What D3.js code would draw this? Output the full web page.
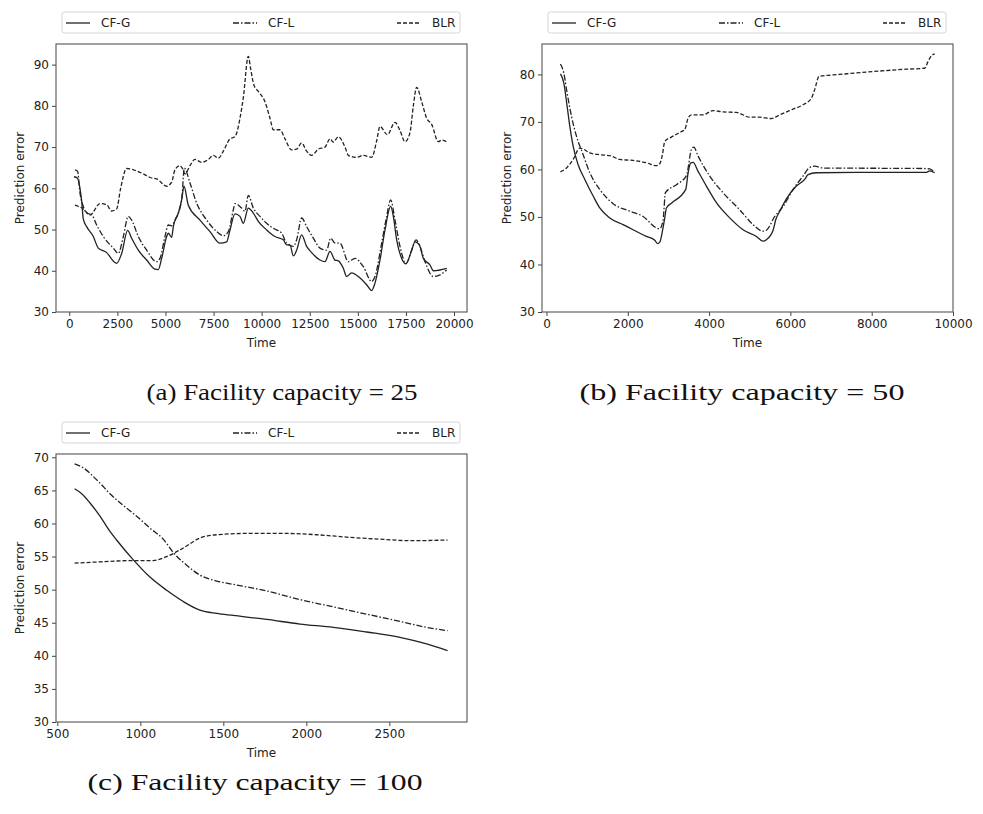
<!DOCTYPE html>
<html>
<head>
<meta charset="utf-8">
<script src="https://cdn.jsdelivr.net/npm/d3@7"></script>
<style>
  html, body { margin: 0; padding: 0; background: #fff; }
  svg { display: block; }
  .tick text { font-family: "DejaVu Sans", sans-serif; font-size: 12px; fill: #222; }
</style>
</head>
<body>
<svg id="chart" width="983" height="814"></svg>
<script>
// ---------------- DATA ----------------
const seriesNames = ["CF-G", "CF-L", "BLR"];

// Panel (a): capacity 25
const aG_t = [244,418,556,643,730,903,1249,1509,1943,2376,2462,2722,3034,3242,3589,4022,4455,4629,4802,5062,5149,5322,5409,5669,5842,5964,6188,6795,7315,7835,8181,8354,8614,8874,9047,9307,9567,9826,10260,10693,11126,11299,11473,11646,11819,12079,12339,12599,13032,13292,13552,13812,13986,14246,14419,14679,15026,15459,15719,15892,16152,16413,16707,16846,17019,17279,17504,17799,17972,18198,18406,18752,18926,19619];
const aG_v = [62.8,62.5,60,57,52.5,50.7,48.3,45.5,44.4,42,41.8,44.2,49.8,47.9,45,42.6,40.4,40.3,43,48.3,49.1,48.1,50.7,54,57.2,60.5,55.9,52.3,49.5,46.7,47,49.9,53.8,53.2,51.5,55.2,54,52,49.9,48.3,47.5,46.3,46.3,43.6,45,48.7,45.9,44.4,42.6,42.2,44.7,42.6,42.4,40.6,38.6,39.5,38.6,36.6,35.2,37,42.6,49.9,55.6,53.2,47.5,43,41.7,45,47,46.3,43,41.4,40,40.6];
const aL_t = [296,435,556,730,903,1163,1423,1769,2289,2549,2808,3069,3242,3589,4022,4542,4715,4975,5149,5322,5495,5842,5981,6275,6622,7142,7662,8008,8268,8528,8614,8961,9134,9307,9567,9913,10260,10606,11039,11299,11646,11819,12079,12339,12686,13032,13379,13587,13812,14072,14506,14852,15286,15719,15892,16239,16499,16707,16932,17192,17504,17799,18024,18232,18492,18926,19272,19619];
const aL_v = [64.5,64.1,58.9,55.6,54,53.6,51.1,48.3,45.5,44.2,48.3,53.2,52.3,48.3,45,42.2,43,48.3,51.1,50.9,52.3,57.2,64.9,61.3,56.4,52.3,49.5,48.5,49.5,54.8,56.3,55.2,54.4,58.3,55.2,53.2,51.5,50.3,49.1,46.7,45.9,47.5,52.8,50.7,47.9,45.5,45,47.9,46.7,46.7,42.2,43,41,37.4,38.6,46.7,53.2,57.2,52.3,45.9,41.8,45,47.5,45.9,42.2,38.6,39,40.2];
const aB_t = [296,730,1076,1596,1943,2203,2462,2670,2982,3329,3849,4282,4542,5062,5322,5495,5755,5895,6015,6275,6535,6882,7228,7488,7748,8008,8354,8614,8874,9047,9307,9428,9601,9826,10173,10433,10606,10953,11213,11560,11819,12079,12339,12599,12946,13292,13552,13725,13986,14333,14506,14939,15286,15719,15979,16152,16534,16932,17192,17452,17712,17885,18059,18319,18579,18839,19186,19359,19619];
const aB_v = [55.9,55,53.5,56.3,56,54.5,55,60,64.8,64.5,63.5,62.5,62.3,60.5,61.5,64.5,65.5,64.7,63.5,65.5,67,66.3,67,68,67.3,69,72,72.5,77,82,92,89,85,83.5,81,77,74.2,74.2,72,69.3,69.5,71,69,68,69.5,70,72,71.2,72.5,70,68,67.5,68,67.5,71.5,75,73,76,74,71.3,73.5,80,84.5,81,77,75.5,71.3,71.7,71.3];

// Panel (b): capacity 50
const bG_t = [344,426,508,574,656,779,943,1148,1311,1557,1885,2131,2459,2664,2730,2787,2852,2910,2951,3074,3426,3484,3549,3607,3730,3934,4180,4508,4836,5164,5328,5410,5574,5639,5738,5902,6148,6352,6434,6639,7623,9344,9426,9549];
const bG_v = [80.1,78.2,73.3,69.1,64.9,61,57.9,54.4,51.9,49.8,48.4,47.3,45.9,45.1,44.4,44.7,47,49.8,51.9,52.9,55.8,59.3,61.4,61.5,59.6,56.5,53,49.8,47.3,45.9,44.9,45.2,47.2,49.4,51.2,53.8,56.5,57.9,58.9,59.3,59.4,59.4,59.7,59.3];
const bL_t = [344,426,508,615,738,902,1066,1311,1639,2049,2377,2705,2787,2869,2926,3197,3443,3566,3623,3730,4016,4344,4754,5082,5328,5410,5615,5820,6066,6311,6459,6598,6803,9262,9426,9549];
const bL_v = [82.2,80.3,76.1,71.2,67,63.1,59.3,55.8,52.8,51.2,50.1,47.7,47.5,49.4,55.1,56.8,58.7,64.2,64.7,62.8,58.6,55.1,51.5,48.4,47,47.2,50.1,52.2,55.8,58.6,60.3,60.7,60.3,60.2,60.1,59.4];
const bB_t = [344,492,656,820,902,1066,1311,1557,1803,2131,2459,2705,2787,2852,2910,3074,3279,3402,3484,3566,3852,4098,4344,4672,5000,5246,5533,5738,6066,6311,6516,6598,6705,7213,8033,8852,9303,9385,9467,9549];
const bB_v = [59.5,60.3,62.1,64.5,64.3,63.5,63.1,62.9,62.1,61.9,61.4,60.8,61.2,63.1,65.9,66.8,67.8,68.4,70.8,71.5,71.5,72.4,72.1,72,71,71,70.7,71.5,72.7,73.6,75,76.8,79.6,80,80.6,81.1,81.3,82.7,83.9,84.3];

// Panel (c): capacity 100
const cG_t = [604,647,697,757,817,857,958,1058,1159,1259,1359,1460,1560,1761,1962,2163,2363,2564,2725,2851];
const cG_v = [65.25,64.5,63.1,61.1,58.8,57.5,54.5,51.9,49.9,48.2,46.9,46.4,46.1,45.5,44.8,44.3,43.6,42.8,41.8,40.8];
const cL_t = [604,657,717,757,817,898,978,1058,1139,1199,1279,1359,1460,1560,1761,1962,2163,2363,2564,2725,2851];
const cL_v = [69,68.4,67.1,66.1,64.5,62.7,61.1,59.3,57.6,55.6,53.7,52.2,51.3,50.8,49.8,48.5,47.4,46.3,45.2,44.3,43.8];
const cB_t = [604,757,958,1078,1159,1259,1359,1460,1661,1861,2062,2263,2464,2625,2851];
const cB_v = [54,54.2,54.4,54.4,55,56.3,57.8,58.3,58.5,58.5,58.3,57.9,57.6,57.4,57.5];

// Tick values
const aXTicks = [0,2500,5000,7500,10000,12500,15000,17500,20000];
const aYTicks = [30,40,50,60,70,80,90];
const bXTicks = [0,2000,4000,6000,8000,10000];
const bYTicks = [30,40,50,60,70,80];
const cXTicks = [500,1000,1500,2000,2500];
const cYTicks = [30,35,40,45,50,55,60,65,70];

const captions = ["(a) Facility capacity = 25", "(b) Facility capacity = 50", "(c) Facility capacity = 100"];

// ---------------- DRAW ----------------
const svg = d3.select("#chart");
const INK = "#222";
const dashes = { "CF-G": null, "CF-L": "6,2,1.5,2", "BLR": "4,2" };

function zip(t, v) { return t.map((x, i) => ({ t: x, v: v[i] })); }

function drawPanel(cfg) {
  const x = d3.scaleLinear().domain(cfg.xDomain).range([cfg.left, cfg.right]);
  const y = d3.scaleLinear().domain(cfg.yDomain).range([cfg.bottom, cfg.top]);
  const g = svg.append("g");

  // lines
  const line = d3.line().x(d => x(d.t)).y(d => y(d.v)).curve(d3.curveMonotoneX);
  cfg.series.forEach((s, i) => {
    g.append("path")
      .datum(zip(s.t, s.v))
      .attr("d", line)
      .attr("fill", "none")
      .attr("stroke", INK)
      .attr("stroke-width", 1.3)
      .attr("stroke-dasharray", dashes[seriesNames[i]]);
  });

  // axes
  const xAxis = g.append("g").attr("transform", `translate(0,${cfg.bottom})`)
    .call(d3.axisBottom(x).tickValues(cfg.xTicks).tickSize(4).tickPadding(3).tickFormat(d3.format("d")));
  const yAxis = g.append("g").attr("transform", `translate(${cfg.left},0)`)
    .call(d3.axisLeft(y).tickValues(cfg.yTicks).tickSize(4).tickPadding(3).tickFormat(d3.format("d")));
  [xAxis, yAxis].forEach(a => {
    a.select(".domain").remove();
    a.selectAll(".tick line").attr("stroke", "#444");
  });

  // frame
  g.append("rect")
    .attr("x", cfg.left).attr("y", cfg.top)
    .attr("width", cfg.right - cfg.left).attr("height", cfg.bottom - cfg.top)
    .attr("fill", "none").attr("stroke", "#555").attr("stroke-width", 1.1);

  // axis labels
  g.append("text")
    .attr("x", (cfg.left + cfg.right) / 2).attr("y", cfg.bottom + 35)
    .attr("text-anchor", "middle")
    .attr("font-family", "DejaVu Sans, sans-serif").attr("font-size", 12).attr("fill", INK)
    .text("Time");
  g.append("text")
    .attr("transform", `translate(${cfg.ylabX},${(cfg.top + cfg.bottom) / 2}) rotate(-90)`)
    .attr("text-anchor", "middle").attr("dominant-baseline", "middle")
    .attr("font-family", "DejaVu Sans, sans-serif").attr("font-size", 12).attr("fill", INK)
    .text("Prediction error");

  // legend
  const lx = cfg.left + 6, lw = (cfg.right - cfg.left) - 13;
  const ly = cfg.legTop, lh = 21;
  g.append("rect")
    .attr("x", lx).attr("y", ly).attr("width", lw).attr("height", lh)
    .attr("rx", 2.5).attr("fill", "#fff").attr("stroke", "#d6d6d6").attr("stroke-width", 1);
  const colOff = [4, 171, 335];
  seriesNames.forEach((name, i) => {
    const sx = lx + colOff[i];
    const cy = ly + lh / 2 + 0.5;
    g.append("line")
      .attr("x1", sx).attr("x2", sx + 24).attr("y1", cy).attr("y2", cy)
      .attr("stroke", INK).attr("stroke-width", 1.3)
      .attr("stroke-dasharray", dashes[name]);
    g.append("text")
      .attr("x", sx + 35).attr("y", cy).attr("dominant-baseline", "central")
      .attr("font-family", "DejaVu Sans, sans-serif").attr("font-size", 12).attr("fill", INK)
      .text(name);
  });

  // caption
  svg.append("text")
    .attr("x", cfg.capX).attr("y", cfg.capY)
    .attr("text-anchor", "middle")
    .attr("font-family", "Liberation Serif, serif").attr("font-size", 23).attr("fill", "#111")
    .attr("textLength", cfg.capW).attr("lengthAdjust", "spacingAndGlyphs")
    .text(cfg.caption);
}

drawPanel({
  left: 56, right: 467, top: 44, bottom: 312,
  xDomain: [-690, 20675], yDomain: [30, 95],
  xTicks: aXTicks, yTicks: aYTicks, ylabX: 20, legTop: 12,
  series: [{ t: aG_t, v: aG_v }, { t: aL_t, v: aL_v }, { t: aB_t, v: aB_v }],
  caption: captions[0], capX: 282, capY: 400, capW: 271
});
drawPanel({
  left: 542, right: 953, top: 44, bottom: 312,
  xDomain: [-110, 10000], yDomain: [30, 86.4],
  xTicks: bXTicks, yTicks: bYTicks, ylabX: 507, legTop: 12,
  series: [{ t: bG_t, v: bG_v }, { t: bL_t, v: bL_v }, { t: bB_t, v: bB_v }],
  caption: captions[1], capX: 742, capY: 400, capW: 325
});
drawPanel({
  left: 56, right: 467, top: 454, bottom: 722,
  xDomain: [492, 2968], yDomain: [30, 70.5],
  xTicks: cXTicks, yTicks: cYTicks, ylabX: 20, legTop: 422,
  series: [{ t: cG_t, v: cG_v }, { t: cL_t, v: cL_v }, { t: cB_t, v: cB_v }],
  caption: captions[2], capX: 255, capY: 790, capW: 335
});
</script>
</body>
</html>
